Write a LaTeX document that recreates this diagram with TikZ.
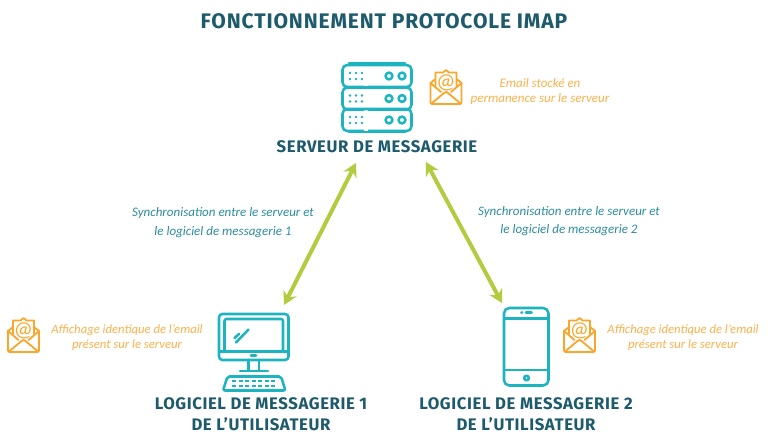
\documentclass[tikz,border=0pt]{standalone}
\usepackage{fontspec}
\setmainfont{Carlito}
\newfontfamily\titlefont{Fira Sans Bold}[LetterSpace=4]
\newfontfamily\headfont{Fira Sans Bold}[LetterSpace=3.6]
\usetikzlibrary{arrows.meta}
\definecolor{headcol}{HTML}{1C5A6C}
\definecolor{iconcol}{HTML}{1CB4C0}
\definecolor{mailcol}{HTML}{FBA62A}
\definecolor{mailtxt}{HTML}{FCB04A}
\definecolor{linkcol}{HTML}{B1CC3F}
\definecolor{synccol}{HTML}{2B8C9E}
\tikzset{
  titletxt/.style={inner sep=0pt,font=\titlefont\fontsize{15.8}{18}\selectfont,text=headcol},
  headtxt/.style={inner sep=0pt,font=\headfont\fontsize{12.55}{15.8}\selectfont,text=headcol,align=center},
  notetxt/.style={inner sep=0pt,font=\itshape\fontsize{9.75}{11.2}\selectfont,text=mailtxt,align=center},
  affichtxt/.style={notetxt,font=\itshape\fontsize{9.5}{11.2}\selectfont},
  synctxt/.style={inner sep=0pt,font=\itshape\fontsize{9.75}{13.8}\selectfont,text=synccol,align=center},
  iconline/.style={draw=iconcol,line width=1.9pt,line cap=round,line join=round},
  maildraw/.style={draw=mailcol,line width=1.35pt,line cap=round,line join=round},
  linkarrow/.style={draw=linkcol,line width=3pt,{Stealth[length=10pt,width=11pt,inset=3.5pt]}-{Stealth[length=10pt,width=11pt,inset=3.5pt]}},
  pics/mailicon/.style={code={
    \draw[maildraw] (-15.5,-5) -- (-10.5,-9) (-10.5,-2) -- (-10.5,-15.5) -- (-3,-15.5) -- (0,-18) -- (3,-15.5) -- (10.5,-15.5) -- (10.5,-2) (10.5,-9) -- (15.5,-5);
    \draw[maildraw,rounded corners=1pt] (-15.5,-5) -- (-15.5,16) -- (15.5,16) -- (15.5,-5);
    \draw[maildraw] (-15.5,-5) -- (-5,4) (15.5,-5) -- (5,4);
    \draw[maildraw] (-14.5,15.5) -- (-2,5) -- (0,4) -- (2,5) -- (14.5,15.5);
    \node[inner sep=0pt,text=mailcol,font=\fontsize{16}{16}\selectfont] at (0,-5.5) {@};
  }},
  pics/serverrow/.style={code={
    \draw[iconline,rounded corners=3.5pt] (-34.5,0) rectangle (34.5,22);
    \foreach \px in {-27,-21,-15}{\foreach \py in {8,14}{
      \fill[iconcol] (\px,\py) circle (1.4);}}
    \draw[iconline] (12,11) circle (3.4) (25,11) circle (3.4);
    \draw[white,line width=2.4pt] (-13,22) -- (-9,22);
  }},
}
\begin{document}
\begin{tikzpicture}[x=0.75pt,y=-0.75pt]
\useasboundingbox (0,0) rectangle (768,443);
% title and labels
\node[titletxt] (title) at (384,21) {FONCTIONNEMENT PROTOCOLE IMAP};
\node[headtxt] (srvlabel) at (377,147) {SERVEUR DE MESSAGERIE};
\node[headtxt] (log1label) at (261,414.5) {LOGICIEL DE MESSAGERIE 1\\DE L’UTILISATEUR};
\node[headtxt] (log2label) at (526,414.5) {LOGICIEL DE MESSAGERIE 2\\DE L’UTILISATEUR};
% server icon
\pic at (377,65) {serverrow};
\pic at (377,87.5) {serverrow};
\pic at (377,109) {serverrow};
\draw[iconline] (349,63) -- (405,63);
\draw[iconline] (349,132) -- (405,132);
% monitor icon
\draw[iconline,rounded corners=2.5pt] (219,314) rectangle (288.5,360);
\draw[iconline,rounded corners=1.5pt] (224.5,351) -- (224.5,319) -- (283,319) -- (283,351);
\draw[iconline] (220,351.5) -- (288,351.5);
\draw[iconline] (234.5,338) -- (239,334) (236,342.5) -- (248.5,329.5);
\draw[iconline] (251,355.5) -- (256,355.5);
\draw[iconline] (248.5,360) -- (248.5,370.5) (259,360) -- (259,370.5);
\draw[iconline] (240,371) -- (268,371);
\draw[iconline,rounded corners=1.5pt] (227.5,376.5) -- (281,376.5) -- (285.5,390.5) -- (223,390.5) -- cycle;
\foreach \kx in {234,240.5,247,253.5,260,266.5,273}{
  \fill[iconcol] (\kx-2,380) rectangle (\kx+2,382.4);
  \fill[iconcol] (\kx-2,384.5) rectangle (\kx+2,386.9);}
% phone icon
\draw[iconline,rounded corners=4pt] (504,308) rectangle (548.5,385.5);
\draw[iconline] (504.5,318.5) -- (548,318.5) (504.5,370) -- (548,370);
\draw[iconline] (521.5,312.5) -- (522,312.5) (526,312.5) -- (531.5,312.5);
\draw[iconline] (526.5,378) circle (2.3);
% mail icons
\pic at (446,88) {mailicon};
\pic at (23.5,336) {mailicon};
\pic at (579.5,336) {mailicon};
% notes
\node[notetxt] (note0) at (540,91.5) {Email stocké en\\permanence sur le serveur};
\node[affichtxt] (note1) at (127,337.5) {Affichage identique de l’email\\présent sur le serveur};
\node[affichtxt] (note2) at (683,337.5) {Affichage identique de l’email\\présent sur le serveur};
\node[synctxt] (sync1) at (223,222.5) {Synchronisation entre le serveur et\\le logiciel de messagerie 1};
\node[synctxt] (sync2) at (569,221) {Synchronisation entre le serveur et\\le logiciel de messagerie 2};
% connectors
\coordinate (a1) at (356,163);
\coordinate (b1) at (284,305);
\coordinate (a2) at (426,162);
\coordinate (b2) at (502,303);
\draw[linkarrow] (a1) -- (b1);
\draw[linkarrow] (a2) -- (b2);
\end{tikzpicture}
\end{document}
